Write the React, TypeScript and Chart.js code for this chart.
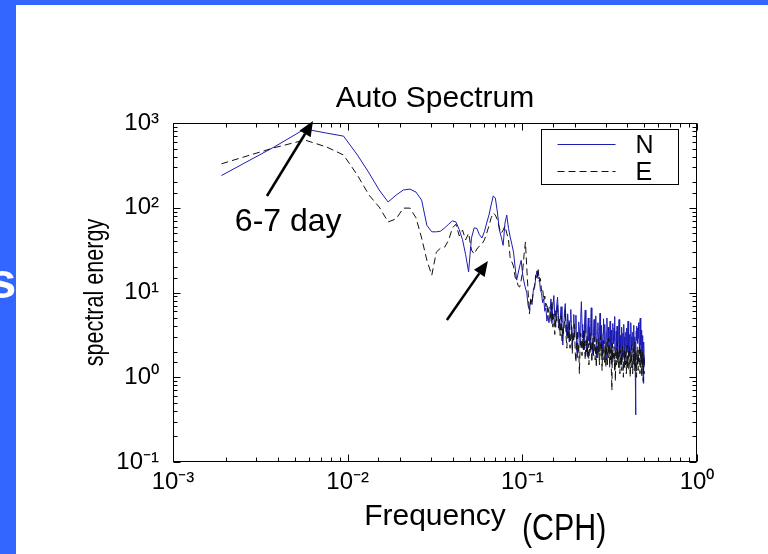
import React, { useEffect, useRef } from 'react';
import { Chart, registerables } from 'chart.js';

Chart.register(...registerables);

// Spectral resolution of the record: 1/528 cycles per hour (22 days of hourly data)
const RECORD_HOURS = 528;

// Auto spectrum, N component (spectral energy)
const N_VALUES: number[] = [
  240, 520, 850, 760, 700, 420, 257, 162, 117, 141,
  162, 166, 153, 123, 62, 52, 52, 53, 58, 64,
  70, 68, 55, 42, 28, 17.5, 44, 58, 57, 48,
  44, 52, 66, 82, 108, 138, 130, 89, 55, 45,
  36, 66, 82, 57, 45, 37, 30, 20, 14, 17,
  20.5, 24, 16.5, 13.3, 11.3, 9.9, 7.0, 6.2, 8.4, 7.2,
  10.5, 11.2, 15.0, 18, 14.5, 15.2, 10.8, 9.8, 7.6, 8.4,
  6.0, 6.6, 4.6, 5.4, 4.4,
  5.6, 8.4, 4.3, 6.9, 9.2, 5.1, 3.9, 7.0, 8.8, 5.4,
  3.6, 4.9, 6.8, 4.4, 2.4, 3.8, 5.9, 7.4, 4.2, 3.1,
  5.6, 4.0, 2.6, 4.5, 6.3, 3.4, 2.3, 3.9, 5.5, 3.0,
  3.8, 5.4, 2.2, 1.7, 3.0, 4.5, 3.6, 2.4, 5.1, 7.8,
  4.2, 2.9, 3.5, 2.1, 4.6, 6.2, 3.3, 2.5, 1.8, 3.7,
  5.0, 2.7, 3.9, 2.2, 4.3, 6.6, 3.1, 2.4, 1.9, 3.4,
  4.8, 2.6, 3.2, 5.3, 2.3, 1.7, 3.6, 4.4, 2.9, 2.0,
  3.5, 5.7, 3.0, 2.2, 4.1, 2.7, 1.8, 3.3, 4.9, 2.5,
  3.0, 4.2, 2.1, 1.6, 3.4, 5.0, 2.8, 2.3, 3.9, 2.6,
  1.9, 3.1, 4.6, 2.4, 3.6, 2.0, 1.5, 2.9, 4.3, 3.2,
  2.5, 3.8, 5.2, 2.7, 1.8, 2.3, 3.5, 2.1, 4.0, 2.9,
  1.6, 2.6, 3.7, 4.8, 2.4, 1.9, 3.1, 2.2, 1.4, 2.8,
  3.9, 2.5, 3.3, 1.8, 2.7, 4.2, 3.0, 2.1, 1.5, 2.4,
  3.4, 2.6, 1.9, 3.8, 2.9, 2.2, 3.5, 4.6, 2.7, 1.7,
  2.3, 3.2, 2.5, 1.8, 3.6, 4.4, 2.8, 2.1, 3.0, 2.4,
  2.6, 3.4, 2.0, 4.1, 2.8, 1.7, 3.0, 2.4, 1.2, 0.36,
  2.2, 3.5, 2.7, 4.0, 3.1, 2.5, 3.8, 2.9, 4.4, 3.3,
  2.6, 3.9, 2.1, 4.2, 5.0, 3.4, 2.4, 1.6, 2.8, 3.6,
  2.3, 1.5, 3.1, 2.0, 0.85, 1.8, 2.6, 1.4, 1.7,
];

// Auto spectrum, E component (spectral energy)
const E_VALUES: number[] = [
  330, 510, 630, 521, 419, 243, 141, 102, 68, 74,
  99, 99, 76, 44, 24, 16, 30, 33.5, 34.4, 41.7,
  57.7, 64, 46.5, 54.6, 41.7, 50, 31.7, 28.4, 32.6, 35.4,
  37.3, 41.7, 50, 61, 76, 86.7, 82, 72, 57.7, 50,
  54.6, 61, 50, 41.7, 25.5, 22.9, 20.5, 15.2, 14, 12,
  11.6, 14, 17.5, 27.7, 39.4, 19.5, 10.1, 5.6, 8.2, 7.4,
  10.7, 12.0, 16, 14.2, 19.5, 13.5, 14.6, 10.4, 11.2, 8.0,
  9.1, 6.8, 7.6, 5.5, 6.6,
  6.8, 4.5, 8.0, 3.9, 5.6, 3.2, 6.1, 4.6, 7.2, 3.8,
  4.9, 3.1, 5.3, 2.7, 4.0, 3.3, 4.5, 6.2, 3.0, 2.2,
  3.9, 2.9, 4.8, 2.2, 3.2, 4.1, 1.9, 3.4, 2.6, 4.2,
  2.0, 1.5, 2.8, 3.6, 1.9, 2.5, 1.1, 2.2, 3.3, 2.6,
  1.8, 2.9, 2.1, 3.7, 2.4, 1.6, 2.7, 2.0, 3.1, 1.7,
  2.5, 1.4, 2.2, 3.3, 1.9, 2.6, 1.5, 2.3, 2.9, 1.8,
  2.1, 3.0, 1.6, 2.4, 1.3, 2.8, 2.0, 1.7, 2.6, 1.9,
  1.4, 2.3, 3.1, 1.8, 2.5, 1.2, 2.1, 1.6, 2.7, 2.0,
  1.5, 2.4, 1.8, 1.3, 1.9, 2.6, 1.4, 2.2, 1.7, 2.9,
  2.0, 1.3, 2.4, 1.6, 2.1, 1.1, 0.7, 2.5, 1.5, 2.0,
  1.7, 2.3, 1.2, 1.9, 0.9, 1.6, 2.2, 1.4, 1.8, 2.6,
  1.5, 2.0, 1.3, 1.7, 2.4, 1.1, 1.6, 2.1, 1.4, 1.9,
  1.2, 1.8, 2.3, 1.5, 1.0, 1.7, 2.2, 1.3, 1.6, 2.0,
  1.4, 1.9, 1.1, 1.6, 2.5, 1.3, 1.8, 1.5, 2.1, 1.2,
  1.7, 2.3, 1.4, 1.0, 1.6, 2.0, 1.3, 1.8, 2.4, 1.5,
  1.1, 1.7, 2.2, 1.4, 1.9, 1.2, 1.6, 2.6, 1.8, 1.3,
  2.0, 1.5, 1.0, 1.7, 2.3, 1.4, 1.9, 1.2, 1.6, 2.1,
  1.5, 2.4, 1.8, 1.1, 1.6, 2.2, 1.3, 1.9, 1.5, 1.0,
  1.7, 2.0, 1.3, 1.6, 0.9, 1.4, 1.8, 1.2, 1.1,
];

const FREQUENCY: number[] = N_VALUES.map((_, i) => (i + 1) / RECORD_HOURS);

const SERIES_LABELS = ['N', 'E'];
const SERIES_COLORS = ['#1c1cb4', '#111111'];

const X_DECADES = [-3, -2, -1, 0];
const X_TICK_LABELS = ['10⁻³', '10⁻²', '10⁻¹', '10⁰'];
const Y_DECADES = [-1, 0, 1, 2, 3];
const Y_TICK_LABELS = ['10⁻¹', '10⁰', '10¹', '10²', '10³'];

const CHART_TITLE = 'Auto Spectrum';
const X_TITLE = 'Frequency';
const Y_TITLE = 'spectral energy';
const X_UNIT = '(CPH)';

// annotations in data coordinates [frequency, energy]
const ARROWS = [
  { from: [0.00345, 137.6], to: [0.00633, 1056] },
  { from: [0.037, 4.74], to: [0.0635, 23.5] },
];
const NOTE_TEXT = '6-7 day';
const NOTE_AT = [0.00226, 53];

const FONT = '"Liberation Sans", Arial, Helvetica, sans-serif';

const isDecade = (v: number) => Math.abs(Math.log10(v) - Math.round(Math.log10(v))) < 1e-6;

const framePlugin = {
  id: 'matlabFrame',
  afterDatasetsDraw(chart: any) {
    const { ctx, chartArea: a, scales } = chart;
    const L = Math.round(a.left) + 0.5;
    const R = Math.round(a.right) - 0.5;
    const T = Math.round(a.top) + 0.5;
    const B = Math.round(a.bottom) - 0.5;
    ctx.save();
    ctx.strokeStyle = '#000';
    ctx.lineWidth = 1;
    ctx.setLineDash([]);
    ctx.beginPath();
    scales.x.ticks.forEach((t: any) => {
      const p = Math.round(scales.x.getPixelForValue(t.value)) + 0.5;
      const len = isDecade(t.value) ? 7 : 4;
      ctx.moveTo(p, B); ctx.lineTo(p, B - len);
      ctx.moveTo(p, T); ctx.lineTo(p, T + len);
    });
    scales.y.ticks.forEach((t: any) => {
      const p = Math.round(scales.y.getPixelForValue(t.value)) + 0.5;
      const len = isDecade(t.value) ? 7 : 4;
      ctx.moveTo(L, p); ctx.lineTo(L + len, p);
      ctx.moveTo(R, p); ctx.lineTo(R - len, p);
    });
    ctx.stroke();
    ctx.strokeRect(L, T, R - L, B - T);

    // condensed, rotated y-axis title (MATLAB narrow look)
    ctx.save();
    ctx.translate(a.left - 70.5, (a.top + a.bottom) / 2);
    ctx.rotate(-Math.PI / 2);
    ctx.scale(0.8, 1);
    ctx.fillStyle = '#000';
    ctx.font = `27px ${FONT}`;
    ctx.textAlign = 'center';
    ctx.textBaseline = 'alphabetic';
    ctx.fillText(Y_TITLE, 0, 0);
    ctx.restore();
    ctx.restore();
  },
};

const legendPlugin = {
  id: 'matlabLegend',
  afterDraw(chart: any) {
    const { ctx, chartArea: a } = chart;
    const w = 137, h = 55;
    const x0 = Math.round(a.right - 19 - w) + 0.5;
    const y0 = Math.round(a.top + 6) + 0.5;
    ctx.save();
    ctx.fillStyle = '#fff';
    ctx.fillRect(x0, y0, w, h);
    ctx.strokeStyle = '#000';
    ctx.lineWidth = 1;
    ctx.strokeRect(x0, y0, w, h);
    chart.data.datasets.forEach((ds: any, i: number) => {
      const ly = Math.round(y0 + 14 + i * 27) + 0.5;
      ctx.beginPath();
      ctx.strokeStyle = ds.borderColor;
      ctx.lineWidth = 1;
      ctx.setLineDash(ds.borderDash || []);
      ctx.moveTo(x0 + 16, ly);
      ctx.lineTo(x0 + 74, ly);
      ctx.stroke();
      ctx.setLineDash([]);
      ctx.fillStyle = '#000';
      ctx.font = `25px ${FONT}`;
      ctx.textBaseline = 'alphabetic';
      ctx.textAlign = 'left';
      ctx.fillText(ds.label, x0 + 94, ly + 8.5);
    });
    ctx.restore();
  },
};

const annotationPlugin = {
  id: 'arrowNotes',
  afterDraw(chart: any) {
    const { ctx, scales: { x, y } } = chart;
    ctx.save();
    ctx.strokeStyle = '#000';
    ctx.fillStyle = '#000';
    ARROWS.forEach((ar) => {
      const x0 = x.getPixelForValue(ar.from[0]);
      const y0 = y.getPixelForValue(ar.from[1]);
      const x1 = x.getPixelForValue(ar.to[0]);
      const y1 = y.getPixelForValue(ar.to[1]);
      const ang = Math.atan2(y1 - y0, x1 - x0);
      const head = 15, half = 6.5;
      const bx = x1 - head * Math.cos(ang);
      const by = y1 - head * Math.sin(ang);
      ctx.lineWidth = 2.5;
      ctx.beginPath();
      ctx.moveTo(x0, y0);
      ctx.lineTo(bx, by);
      ctx.stroke();
      ctx.beginPath();
      ctx.moveTo(x1, y1);
      ctx.lineTo(bx + half * Math.sin(ang), by - half * Math.cos(ang));
      ctx.lineTo(bx - half * Math.sin(ang), by + half * Math.cos(ang));
      ctx.closePath();
      ctx.fill();
    });
    ctx.font = `32px ${FONT}`;
    ctx.textAlign = 'left';
    ctx.textBaseline = 'alphabetic';
    ctx.fillText(NOTE_TEXT, x.getPixelForValue(NOTE_AT[0]), y.getPixelForValue(NOTE_AT[1]));
    ctx.restore();
  },
};

export default function App() {
  const canvasRef = useRef<HTMLCanvasElement | null>(null);

  useEffect(() => {
    const canvas = canvasRef.current;
    if (!canvas) return;
    const chart = new Chart(canvas, {
      type: 'line',
      data: {
        datasets: [
          {
            label: SERIES_LABELS[0],
            data: FREQUENCY.map((f, i) => ({ x: f, y: N_VALUES[i] })),
            borderColor: SERIES_COLORS[0],
            borderWidth: 1,
            pointRadius: 0,
            tension: 0,
            fill: false,
            order: 1,
          },
          {
            label: SERIES_LABELS[1],
            data: FREQUENCY.map((f, i) => ({ x: f, y: E_VALUES[i] })),
            borderColor: SERIES_COLORS[1],
            borderWidth: 1,
            borderDash: [7, 4],
            pointRadius: 0,
            tension: 0,
            fill: false,
            order: 0,
          },
        ],
      },
      options: {
        responsive: false,
        animation: false,
        devicePixelRatio: 1,
        layout: { padding: { left: 0, right: 71, top: 0, bottom: 0 } },
        plugins: {
          legend: { display: false },
          tooltip: { enabled: false },
          title: {
            display: true,
            fullSize: false,
            text: CHART_TITLE,
            color: '#000',
            font: { family: FONT, size: 30, weight: 'normal' },
            padding: { top: 81, bottom: 6 },
          },
        },
        scales: {
          x: {
            type: 'logarithmic',
            min: 0.001,
            max: 1,
            grid: { display: false, drawTicks: false },
            border: { display: false },
            ticks: {
              autoSkip: false,
              maxRotation: 0,
              minRotation: 0,
              padding: 6,
              color: '#000',
              font: { family: FONT, size: 24 },
              callback: (v: any) => {
                const val = Number(v);
                if (!isDecade(val)) return '';
                const i = X_DECADES.indexOf(Math.round(Math.log10(val)));
                return i >= 0 ? X_TICK_LABELS[i] : '';
              },
            },
            title: {
              display: true,
              text: X_TITLE,
              color: '#000',
              font: { family: FONT, size: 30 },
              padding: { top: 0, bottom: 19 },
            },
            afterFit: (s: any) => { s.height = 92; },
          },
          y: {
            type: 'logarithmic',
            min: 0.1,
            max: 1000,
            grid: { display: false, drawTicks: false },
            border: { display: false },
            ticks: {
              autoSkip: false,
              padding: 14,
              color: '#000',
              font: { family: FONT, size: 24 },
              callback: (v: any) => {
                const val = Number(v);
                if (!isDecade(val)) return '';
                const i = Y_DECADES.indexOf(Math.round(Math.log10(val)));
                return i >= 0 ? Y_TICK_LABELS[i] : '';
              },
            },
            title: { display: false },
            afterFit: (s: any) => { s.width = 173; },
          },
        },
      },
      plugins: [framePlugin, annotationPlugin, legendPlugin],
    });
    return () => chart.destroy();
  }, []);

  return (
    <div style={{ position: 'fixed', left: 0, top: 0, width: 768, height: 554, background: '#3366ff', overflow: 'hidden' }}>
      <div style={{ position: 'absolute', left: -11.5, top: 255.7, color: '#fff', fontFamily: FONT, fontWeight: 'bold', fontSize: 50, lineHeight: '50px' }}>s</div>
      <div style={{ position: 'absolute', left: 16, top: 5, width: 752, height: 549, background: '#fff' }} />
      <canvas ref={canvasRef} width={768} height={554} style={{ position: 'absolute', left: 0, top: 0 }} />
      <div style={{ position: 'absolute', left: 522, top: 509, color: '#000', fontFamily: FONT, fontSize: 37, lineHeight: '37px', transform: 'scaleX(0.82)', transformOrigin: 'left top', whiteSpace: 'nowrap' }}>{X_UNIT}</div>
    </div>
  );
}
